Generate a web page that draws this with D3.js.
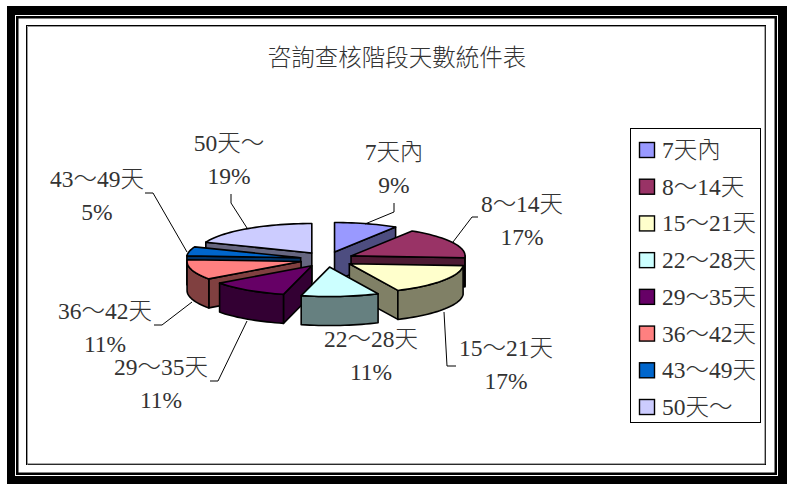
<!DOCTYPE html>
<html><head><meta charset="utf-8">
<script src="https://cdn.jsdelivr.net/npm/d3@7/dist/d3.min.js"></script>
<style>html,body{margin:0;padding:0;background:#fff}svg{display:block}
text{font-family:"Liberation Serif","Noto Sans CJK TC",serif;fill:#333;font-weight:300}</style></head>
<body><svg id="c" width="787" height="484"></svg>
<script>
const title = "咨詢查核階段天數統件表";
const categories = ["7天內","8～14天","15～21天","22～28天","29～35天","36～42天","43～49天","50天～"];
const values = [9,17,17,11,11,11,5,19];
const colors = ["#9999FF","#993366","#FFFFCC","#CCFFFF","#660066","#FF8080","#0066CC","#CCCCFF"];
const drawOrder = [7,0,6,5,1,4,2,3];
const labelCenters = [[394,152],[522,204],[506,348],[371,339],[161,367],[105,311],[97,179],[229,143]];
const leaders = [
 [[365,224],[394,212],[394,203]],
 [[453,242],[472,217],[478,217]],
 [[444,312],[447,366],[456,366]],
 null,
 [[247,321],[218,381],[210,381]],
 [[192,302],[162,325],[154,325]],
 [[187,252],[153,193],[145,193]],
 [[247,228],[231,203],[231,194]]
];
const pie3d = {cx:327, cy:259.4, rx:114, ry:29.5, depth:29, ex:27, ey:7.7};

const svg = d3.select("#c");
// frame
svg.append("rect").attr("x",7).attr("y",6).attr("width",780).attr("height",478).attr("fill","#000");
svg.append("rect").attr("x",15).attr("y",15).attr("width",763).attr("height",461).attr("fill","#fff");
svg.append("rect").attr("x",17.25).attr("y",17.25).attr("width",758.5).attr("height",456.5).attr("fill","none").attr("stroke","#000").attr("stroke-width",2.5);
svg.append("rect").attr("x",26.5).attr("y",25.5).attr("width",739).attr("height",439).attr("fill","#fff").attr("stroke","#000").attr("stroke-width",1);
svg.append("path").attr("fill","none").attr("stroke","#999").attr("stroke-width",1).attr("d","M27.5,465V26.5H765");
svg.append("path").attr("fill","none").attr("stroke","#555").attr("stroke-width",1).attr("d","M765,26V464H27");

svg.append("text").attr("x",397).attr("y",66).attr("text-anchor","middle").attr("font-size",23.5).text(title);

const arcs = d3.pie().sort(null).value(d=>d)(values);
const P = pie3d;
const sx = d3.scaleLinear().domain([-1,1]).range([-P.rx,P.rx]);
const sy = d3.scaleLinear().domain([-1,1]).range([P.ry,-P.ry]);
function project(a, apex, dz=0){
  return [apex[0]+sx(Math.sin(a)), apex[1]+sy(Math.cos(a))+dz];
}
function rimPts(a0,a1,apex,dz=0){
  const n=Math.max(2,Math.ceil((a1-a0)/0.04));
  return d3.range(n+1).map(i=>project(a0+(a1-a0)*i/n,apex,dz));
}
const line=d3.line();
const gPie=svg.append("g").attr("stroke","#000").attr("stroke-width",1.6).attr("stroke-linejoin","round");
drawOrder.forEach(i=>{
  const d=arcs[i], mid=(d.startAngle+d.endAngle)/2;
  const apex=[P.cx+P.ex*Math.sin(mid), P.cy-P.ey*Math.cos(mid)];
  const apexB=[apex[0],apex[1]+P.depth];
  const c=d3.color(colors[i]);
  const dark=d3.rgb(c.r*0.5,c.g*0.5,c.b*0.5).formatHex();
  const wall=a=>{
    const p=project(a,apex), q=project(a,apex,P.depth);
    gPie.append("path").attr("fill",dark).attr("d",line([apex,p,q,apexB])+"Z");
  };
  if(Math.sin(d.endAngle)>0.001) wall(d.endAngle);
  if(Math.sin(d.startAngle)<-0.001) wall(d.startAngle);
  const r0=Math.max(d.startAngle,Math.PI/2), r1=Math.min(d.endAngle,3*Math.PI/2);
  if(r1>r0){
    const top=rimPts(r0,r1,apex), bot=rimPts(r0,r1,apex,P.depth).reverse();
    gPie.append("path").attr("fill",dark).attr("d",line(top.concat(bot))+"Z");
  }
  gPie.append("path").attr("fill",colors[i]).attr("d",line([apex].concat(rimPts(d.startAngle,d.endAngle,apex)))+"Z");
});
// leaders and labels
const fmt=d3.format(".0%");
const total=d3.sum(values);
categories.forEach((c,i)=>{
  if(leaders[i]) svg.append("path").attr("fill","none").attr("stroke","#000").attr("stroke-width",1).attr("d",line(leaders[i]));
  const [x,y]=labelCenters[i];
  svg.append("text").attr("x",x).attr("y",y+8).attr("text-anchor","middle").attr("font-size",23.5).text(c);
  svg.append("text").attr("x",x).attr("y",y+41).attr("text-anchor","middle").attr("font-size",23.5).text(fmt(values[i]/total));
});
// legend
svg.append("rect").attr("x",630.5).attr("y",128.5).attr("width",130).attr("height",294).attr("fill","#fff").attr("stroke","#000");
const ly=d3.scalePoint().domain(categories).range([150,407]);
categories.forEach((c,i)=>{
  svg.append("rect").attr("x",639.5).attr("y",ly(c)-7.5).attr("width",15).attr("height",15).attr("fill",colors[i]).attr("stroke","#000").attr("stroke-width",1.4);
  svg.append("text").attr("x",662).attr("y",ly(c)+8).attr("font-size",23.5).text(c);
});
</script></body></html>
